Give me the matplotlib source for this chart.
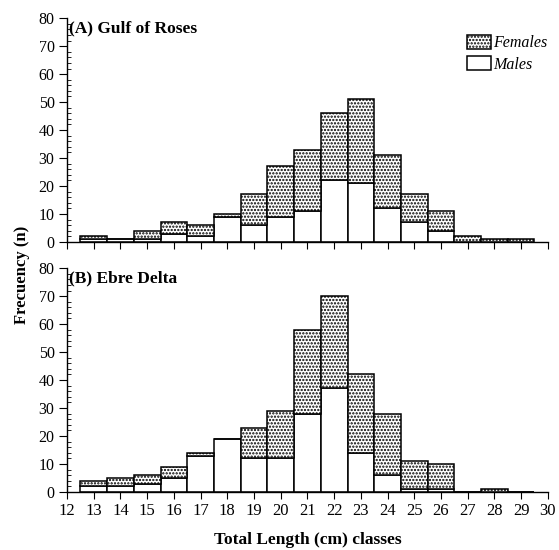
import matplotlib
matplotlib.use("Agg")
import matplotlib.pyplot as plt
from matplotlib.ticker import MultipleLocator
from matplotlib.patches import Patch

# length classes (cm)
classes = list(range(13, 30))

# (A) Gulf of Roses
males_a = [1, 1, 1, 3, 2, 9, 6, 9, 11, 22, 21, 12, 7, 4, 0, 0, 0]
females_a = [1, 0, 3, 4, 4, 1, 11, 18, 22, 24, 30, 19, 10, 7, 2, 1, 1]

# (B) Ebre Delta
males_b = [2, 2, 3, 5, 13, 19, 12, 12, 28, 37, 14, 6, 1, 1, 0, 0, 0]
females_b = [2, 3, 3, 4, 1, 0, 11, 17, 30, 33, 28, 22, 10, 9, 0, 1, 0]

plt.rcParams['font.family'] = ['Liberation Serif', 'DejaVu Serif']
plt.rcParams['hatch.linewidth'] = 1.1

fig = plt.figure(figsize=(5.59, 5.5), dpi=100)
ax_a = fig.add_axes([0.12, 0.56, 0.86, 0.407])
ax_b = fig.add_axes([0.12, 0.1055, 0.86, 0.407])

STIPPLE = '.....'


def draw_panel(ax, males, females, title, show_xlabels):
    ax.bar(classes, males, width=1.0, color='white', edgecolor='black', linewidth=1.1)
    ax.bar(classes, females, width=1.0, bottom=males, color='white',
           edgecolor='black', linewidth=1.1, hatch=STIPPLE)
    ax.set_xlim(12, 30)
    ax.set_ylim(0, 80)
    ax.spines['top'].set_visible(False)
    ax.spines['right'].set_visible(False)
    ax.spines['left'].set_linewidth(1.0)
    ax.spines['bottom'].set_linewidth(1.0)
    ax.xaxis.set_major_locator(MultipleLocator(1))
    ax.yaxis.set_major_locator(MultipleLocator(10))
    ax.yaxis.set_minor_locator(MultipleLocator(2))
    ax.tick_params(axis='y', which='major', direction='out', length=6, labelsize=11.5, pad=3)
    ax.tick_params(axis='y', which='minor', direction='in', length=3)
    ax.tick_params(axis='x', which='major', direction='out', length=5, labelsize=12, pad=3)
    if not show_xlabels:
        ax.tick_params(axis='x', labelbottom=False)
    ax.text(0.005, 0.99, title, transform=ax.transAxes, fontsize=12.5,
            fontweight='bold', ha='left', va='top')


draw_panel(ax_a, males_a, females_a, '(A) Gulf of Roses', False)
draw_panel(ax_b, males_b, females_b, '(B) Ebre Delta', True)

handles = [Patch(facecolor='white', edgecolor='black', hatch=STIPPLE, linewidth=1.1),
           Patch(facecolor='white', edgecolor='black', linewidth=1.1)]
leg = ax_a.legend(handles, ['Females', 'Males'], loc='upper right',
                  bbox_to_anchor=(1.013, 0.955), frameon=False,
                  prop={'style': 'italic', 'size': 11.5},
                  handlelength=1.5, handleheight=1.0, handletextpad=0.15,
                  labelspacing=0.3, borderaxespad=0.0)

ax_b.set_xlabel('Total Length (cm) classes', fontsize=12.5, fontweight='bold', labelpad=9)
fig.text(0.04, 0.5, 'Frecuency (n)', rotation=90, fontsize=12,
         fontweight='bold', ha='center', va='center')

fig.savefig('out.png', dpi=100)
